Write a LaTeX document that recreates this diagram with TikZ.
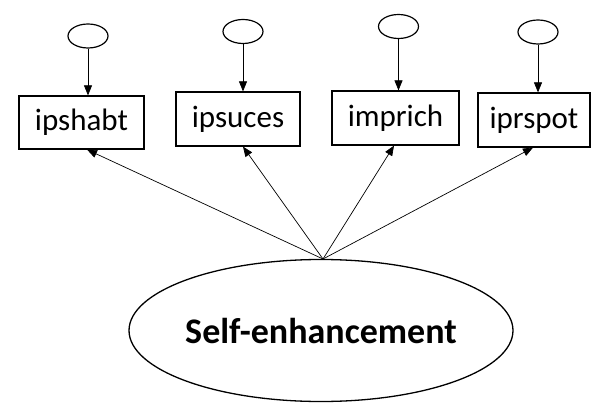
\documentclass[tikz,border=0pt]{standalone}
\usepackage{fontspec}
\setmainfont{Carlito}
\usetikzlibrary{arrows.meta,shapes.geometric}
\begin{document}
\begin{tikzpicture}[x=1pt,y=-1pt,
  obs/.style={draw,line width=1.2pt,rectangle,inner sep=0pt,font=\fontsize{31}{36}\selectfont},
  err/.style={draw,line width=1.2pt,ellipse,inner sep=0pt,minimum width=40pt,minimum height=24pt},
  lat/.style={draw,line width=1.3pt,ellipse,inner sep=0pt,minimum width=360pt,minimum height=142pt,font=\bfseries\fontsize{36}{40}\selectfont},
  arr/.style={-{Triangle[length=10pt,width=8pt]},line width=0.7pt}]
\useasboundingbox (0,0) rectangle (596,403);
\node[obs,minimum width=125pt,minimum height=53pt] (b1) at (81.5,122.5) {ipshabt};
\node[obs,minimum width=124pt,minimum height=54pt] (b2) at (238,119) {ipsuces};
\node[obs,minimum width=127pt,minimum height=54pt] (b3) at (395.5,118) {imprich};
\node[obs,minimum width=112pt,minimum height=54pt] (b4) at (534,120) {iprspot};
\node[err] (e1) at (88,36) {};
\node[err] (e2) at (243,31.5) {};
\node[err] (e3) at (398.5,26.5) {};
\node[err] (e4) at (538,32) {};
\node[lat] (f) at (321,330.5) {Self-enhancement};
\coordinate (c) at (323,259);
\draw[arr] (e1.south) -- (e1.south |- b1.north);
\draw[arr] (e2.south) -- (e2.south |- b2.north);
\draw[arr] (e3.south) -- (e3.south |- b3.north);
\draw[arr] (e4.south) -- (e4.south |- b4.north);
\draw[arr] (c) -- (b1.south -| 87,0);
\draw[arr] (c) -- (b2.south -| 243,0);
\draw[arr] (c) -- (b3.south -| 394,0);
\draw[arr] (c) -- (b4.south -| 533,0);
\end{tikzpicture}
\end{document}
